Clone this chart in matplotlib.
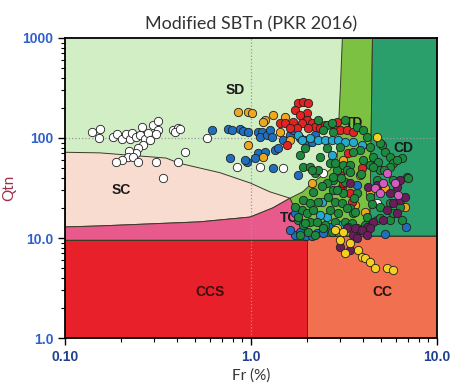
import matplotlib
matplotlib.use('Agg')
import matplotlib.pyplot as plt
from matplotlib.patches import Polygon
from matplotlib.ticker import FixedLocator, NullFormatter

# soil behaviour zone outlines (Fr %, Qtn)
sd_sc_line = [(0.1, 72), (0.154, 71), (0.35, 63), (0.41, 56), (0.68, 45), (0.99, 35.5), (1.26, 29), (1.62, 25)]
sc_tc_line = [(0.1, 12.9), (0.154, 13.2), (0.53, 14.5), (0.99, 16.2), (1.31, 20), (1.62, 25)]
tc_right = [(1.62, 25), (1.75, 18), (1.85, 13), (1.95, 10.5), (2.0, 9.5)]
sd_td_line = [(3.1, 1000), (3.02, 300), (2.95, 120), (2.9, 60), (2.66, 48), (2.15, 36), (1.9, 29), (1.62, 25)]
td_cd_line = [(4.5, 1000), (4.35, 10.5)]

# CPT points per colour group
white_fr = [0.14, 0.154, 0.152, 0.181, 0.19, 0.202, 0.213, 0.224, 0.229, 0.241, 0.253, 0.259, 0.269, 0.279,
            0.297, 0.316, 0.316, 0.308, 0.286, 0.262, 0.247, 0.241, 0.221, 0.218, 0.202, 0.188, 0.232, 0.247,
            0.308, 0.405, 0.442, 0.381, 0.405, 0.579, 0.336, 0.39, 0.415, 0.84, 1.12, 1.49, 2.44, 4.76]
white_q = [115, 123, 100, 102, 110, 98, 110, 98, 112, 102, 107, 129, 98, 112,
           135, 148, 120, 110, 95, 85, 79, 71, 74, 65, 60, 58, 65, 58,
           58, 58, 72, 120, 126, 100, 40, 115, 123, 51, 51, 50, 45, 22.4]

blue_fr = [0.617, 0.752, 0.79, 0.873, 0.906, 0.963, 1.09, 1.15, 1.12, 1.22, 1.26, 1.30, 1.49, 1.62, 1.68,
           1.83, 1.95, 2.0, 2.13, 2.21, 1.35, 1.40, 1.09, 1.05, 0.952, 0.771, 0.929, 1.19, 1.31, 1.79, 1.72,
           2.26, 2.44, 1.72, 1.83, 1.98, 1.62, 2.13, 6.81, 5.25, 2.66, 3.72]
blue_q = [120, 123, 120, 123, 117, 115, 115, 115, 102, 107, 120, 102, 95, 107, 120,
          100, 95, 89, 91, 107, 76, 80, 71, 63, 58, 63, 60, 72, 50, 43, 17.8,
          11.2, 11.2, 10.7, 11.5, 10.5, 12.0, 10.5, 12.9, 11.0, 12.9, 34]

orange_fr = [0.851, 0.963, 1.01, 1.19, 1.31, 1.16, 1.52, 1.43, 1.62, 0.963, 1.16, 2.13, 3.12, 3.85,
             4.36, 5.25, 4.10, 3.62, 6.73]
orange_q = [182, 182, 178, 151, 170, 145, 162, 115, 95, 85, 65, 35.5, 60, 43,
            28, 31.6, 18.2, 21.4, 20.4]

red_fr = [1.79, 1.90, 2.02, 1.72, 2.0, 2.0, 1.43, 1.52, 1.68, 1.88, 2.13, 2.21, 2.02, 1.77, 1.62, 2.35,
          1.56, 2.50, 2.83, 3.01, 3.28, 3.53, 2.90, 3.32, 3.95, 3.01, 3.09, 3.49, 3.41, 3.01, 3.12, 1.83]
red_q = [224, 229, 224, 191, 178, 151, 141, 141, 145, 141, 141, 129, 126, 126, 126, 126,
         85, 135, 129, 120, 120, 115, 145, 71, 50, 43, 32, 23, 28, 30, 35.5, 170]

cyan_fr = [1.79, 1.88, 2.29, 2.50, 2.72, 2.94, 3.20, 3.53, 2.72, 2.41, 2.56, 2.35, 2.08, 3.95, 3.01]
cyan_q = [107, 95, 95, 95, 95, 95, 91, 91, 68, 23, 16.2, 17, 100, 85, 13.5]

green_fr = [1.90, 2.08, 2.21, 2.66, 2.90, 3.12, 2.76, 3.20, 2.15, 2.76, 3.12, 1.90, 2.08, 2.29, 2.83, 3.09,
            3.41, 1.88, 2.0, 2.15, 2.66, 2.94, 1.79, 1.90, 2.08, 2.26, 2.50, 2.83, 3.20, 3.49, 1.83, 2.02,
            2.21, 2.72, 3.72, 1.72, 1.79, 1.95,
            2.56, 2.72, 3.72, 4.0, 3.85, 4.36, 4.53, 5.06, 5.25, 5.59, 5.80, 6.48, 4.82, 4.36, 3.53, 4.0,
            3.01, 2.56, 2.35, 2.83, 3.41,
            2.44, 2.76, 4.20, 4.94, 6.09, 6.90, 5.80, 4.94, 3.28, 2.76, 2.29, 2.13, 2.56, 2.90, 3.72, 4.36,
            4.94, 5.59, 6.32, 3.53, 4.20, 4.76, 5.59, 3.32,
            4.53, 5.59, 6.98, 4.76, 3.41, 3.28, 3.62, 4.10, 4.94, 6.48, 5.80, 2.29, 3.20, 1.83, 1.95,
            2.40, 2.60, 3.05, 3.90, 4.45, 5.20, 2.45, 3.60]
green_q = [51, 51, 45, 56, 48, 54, 38, 36, 29, 30, 28, 24, 22.4, 23, 23, 22.4,
           20, 19, 17.8, 19, 19, 17.8, 15.1, 13.5, 14.5, 14.5, 13.5, 14.5, 14.5, 14.1, 10.7, 11.5,
           10.7, 11.5, 12.6, 20.4, 16.2, 14.1,
           135, 141, 129, 120, 76, 81, 65, 85, 72, 65, 56, 63, 58, 54, 72, 60,
           81, 79, 65, 56, 54,
           120, 115, 102, 89, 60, 41, 38, 48, 48, 41, 48, 48, 35.5, 30, 28, 26,
           20.4, 22.4, 20.4, 17.8, 16.2, 15.1, 15.1, 12.9,
           51, 51, 40, 38, 46, 20, 18.2, 13.5, 15.8, 15.1, 17.8, 151, 151, 68, 79,
           33, 26, 40, 44, 22, 48, 12.5, 25]

purple_fr = [4.26, 4.76, 5.59, 6.09, 6.32, 5.80, 5.39, 5.13, 4.53, 4.20, 3.85, 3.53, 6.09, 6.73, 6.32,
             3.62, 3.95, 4.36, 3.01, 3.41, 3.72, 4.20, 3.28, 3.41]
purple_q = [32, 34, 28, 32, 24, 22.4, 19, 15.1, 14.5, 12.9, 12.0, 10.7, 17.8, 26, 38,
            12.6, 12.0, 12.6, 8.1, 7.6, 10, 10.7, 12.6, 35.5]

pink_fr = [5.13, 4.64, 4.94, 5.94, 5.39, 6.17]
pink_q = [35.5, 31.6, 28, 35.5, 45, 27]

yellow_fr = [4.76, 2.90, 3.12, 3.01, 3.41, 3.76, 3.20, 3.95, 4.10, 4.36, 4.64, 5.39, 5.80, 2.83]
yellow_q = [102, 12.6, 11.5, 9.5, 8.9, 7.6, 7.1, 6.5, 6.3, 5.75, 5.0, 5.0, 4.8, 12.0]

fig = plt.figure(figsize=(4.52, 3.90), dpi=100)
ax = fig.add_axes([0.1438, 0.1333, 0.8230, 0.7693])
ax.set_xscale('log')
ax.set_yscale('log')
ax.set_xlim(0.1, 10)
ax.set_ylim(1, 1000)

edge = dict(edgecolor='#3a3a2a', linewidth=0.7)
ax.add_patch(Polygon([(0.1, 1), (10, 1), (10, 1000), (0.1, 1000)], closed=True, facecolor='#d1eec5', zorder=1))
ax.add_patch(Polygon(sd_td_line + tc_right[1:-1] + [(4.35, 10.5)] + td_cd_line[::-1][1:],
                     closed=True, facecolor='#7cc142', zorder=2, **edge))
ax.add_patch(Polygon(td_cd_line + [(10, 10.5), (10, 1000)], closed=True, facecolor='#2a9f6c', zorder=2, **edge))
ax.add_patch(Polygon(sd_sc_line + sc_tc_line[::-1], closed=True, facecolor='#f9dcd0', zorder=2, **edge))
ax.add_patch(Polygon(sc_tc_line + tc_right[1:] + [(0.1, 9.5)], closed=True, facecolor='#e85a8c', zorder=2, **edge))
ax.add_patch(Polygon([(0.1, 1), (2.0, 1), (2.0, 9.5), (0.1, 9.5)], closed=True, facecolor='#e8202a', zorder=2, **edge))
ax.add_patch(Polygon([(2.0, 1), (10, 1), (10, 10.5), (2.0, 10.5)], closed=True, facecolor='#f07050', zorder=2, **edge))

ax.axvline(1.0, color='#9a9a9a', linestyle=':', linewidth=0.9, zorder=3)
ax.axhline(100, color='#9a9a9a', linestyle=':', linewidth=0.9, zorder=3)

lab = dict(fontsize=10, fontweight='bold', ha='center', va='center', zorder=3, family='Liberation Sans')
ax.text(0.82, 300, 'SD', color='#1a1a1a', **lab)
ax.text(0.2, 30, 'SC', color='#1a1a1a', **lab)
ax.text(1.6, 15.8, 'TC', color='#1a1a1a', **lab)
ax.text(3.6, 141, 'TD', color='#1a1a1a', **lab)
ax.text(6.6, 79, 'CD', color='#1a1a1a', **lab)
ax.text(0.6, 2.9, 'CCS', color='#3a1010', **lab)
ax.text(5.1, 2.9, 'CC', color='#2a1010', **lab)

pt = dict(s=36, edgecolors='#202020', linewidths=0.6, zorder=4)
ax.scatter(white_fr, white_q, c='white', **pt)
ax.scatter(blue_fr, blue_q, c='#1f6fc0', **pt)
ax.scatter(orange_fr, orange_q, c='#eea820', **pt)
ax.scatter(red_fr, red_q, c='#e02424', **pt)
ax.scatter(cyan_fr, cyan_q, c='#22aad0', **pt)
ax.scatter(green_fr, green_q, c='#1c8a3c', **pt)
ax.scatter(purple_fr, purple_q, c='#6a1e5c', **pt)
ax.scatter(pink_fr, pink_q, c='#d25cc0', **pt)
ax.scatter(yellow_fr, yellow_q, c='#f4d020', **pt)

ax.xaxis.set_major_locator(FixedLocator([0.1, 1, 10]))
ax.yaxis.set_major_locator(FixedLocator([1, 10, 100, 1000]))
ax.xaxis.set_minor_formatter(NullFormatter())
ax.yaxis.set_minor_formatter(NullFormatter())
ax.set_xticklabels(['0.10', '1.0', '10.0'], color='#1f3f8f', fontweight='bold', fontsize=10, family='Liberation Sans')
ax.set_yticklabels(['1.0', '10.0', '100', '1000'], color='#2f5fcf', fontweight='bold', fontsize=10, family='Liberation Sans')
ax.tick_params(which='major', direction='out', length=5, width=1)
ax.tick_params(which='minor', direction='out', length=3, width=0.8)
for s in ax.spines.values():
    s.set_linewidth(1.3)
    s.set_zorder(5)

ax.set_title('Modified SBTn (PKR 2016)', fontsize=13, color='#333333', family='Lato', pad=6)
ax.set_xlabel('Fr (%)', fontsize=11, color='#333333', family='Lato', labelpad=3)
ax.set_ylabel('Qtn', fontsize=11, color='#a0304a', family='Lato', labelpad=4)

plt.savefig('out.png', dpi=100)
